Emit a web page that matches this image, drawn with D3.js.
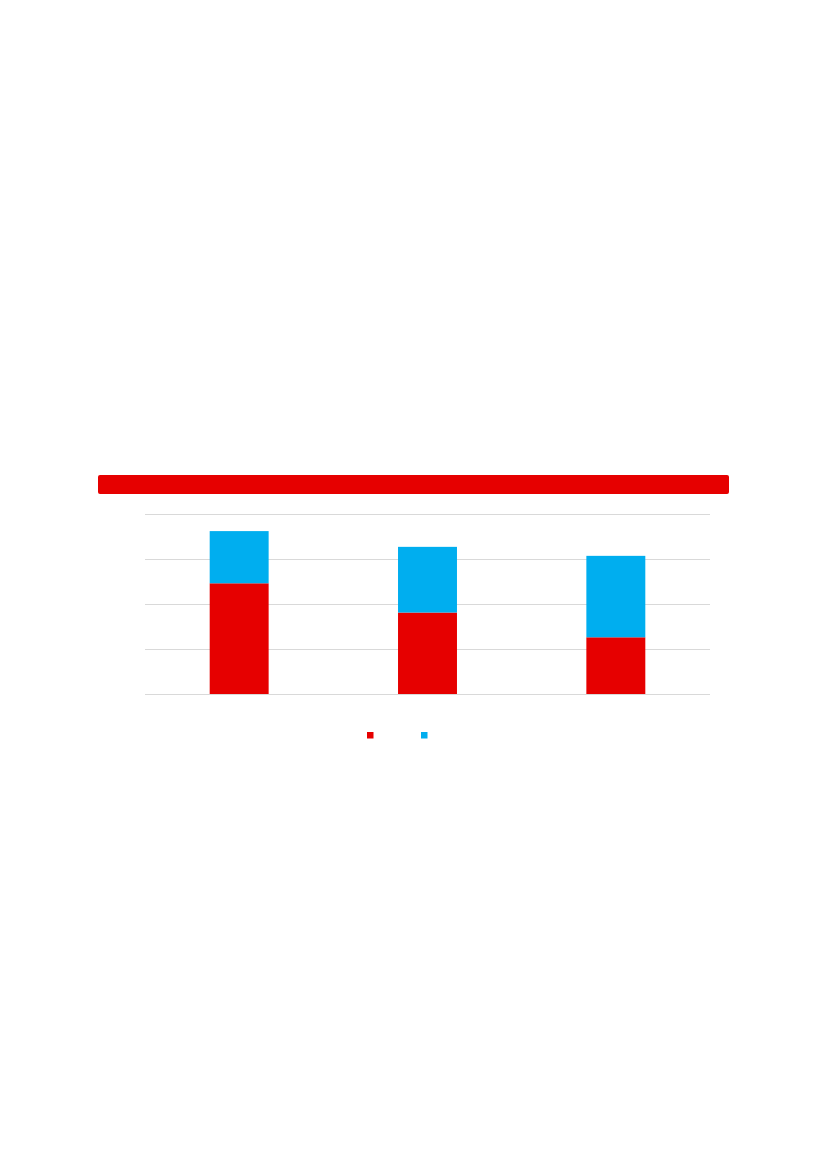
<!DOCTYPE html>
<html>
<head>
<meta charset="utf-8">
<script src="https://cdn.jsdelivr.net/npm/d3@7"></script>
<style>
  html, body { margin: 0; padding: 0; background: #fff; }
  svg { display: block; }
</style>
</head>
<body>
<div id="chart"></div>
<script>
// Data
const categories = ['1', '2', '3'];
const seriesNames = ['red', 'blue'];
const redValues = [2.46, 1.81, 1.26];
const blueValues = [1.16, 1.46, 1.81];
const yTicks = [0, 1, 2, 3, 4];

const colors = { red: '#e60000', blue: '#00aeef' };

const W = 826, H = 1169;
const plot = { left: 145, right: 710, top: 514, bottom: 694 };

const svg = d3.select('#chart')
    .append('svg')
    .attr('width', W)
    .attr('height', H);

// Title banner
svg.append('rect')
    .attr('x', 98)
    .attr('y', 475)
    .attr('width', 631)
    .attr('height', 19)
    .attr('rx', 2)
    .attr('fill', colors.red);

// Scales
const x = d3.scaleBand()
    .domain(categories)
    .range([plot.left, plot.right])
    .paddingInner(0.687)
    .paddingOuter(0.3435);

const y = d3.scaleLinear()
    .domain([0, 4])
    .range([plot.bottom, plot.top]);

// Gridlines
svg.append('g')
    .selectAll('line')
    .data(yTicks)
    .enter()
    .append('line')
    .attr('x1', plot.left)
    .attr('x2', plot.right)
    .attr('y1', d => y(d) + 0.5)
    .attr('y2', d => y(d) + 0.5)
    .attr('stroke', '#d9d9d9')
    .attr('stroke-width', 1)
    .attr('shape-rendering', 'crispEdges');

// Stacked bars
const rows = categories.map((c, i) => ({ cat: c, red: redValues[i], blue: blueValues[i] }));
const stacked = d3.stack().keys(seriesNames)(rows);

svg.append('g')
    .selectAll('g')
    .data(stacked)
    .enter()
    .append('g')
    .attr('fill', d => colors[d.key])
    .selectAll('rect')
    .data(d => d)
    .enter()
    .append('rect')
    .attr('x', d => x(d.data.cat))
    .attr('y', d => y(d[1]))
    .attr('width', x.bandwidth())
    .attr('height', d => y(d[0]) - y(d[1]));

// Legend
const legendX = d3.scalePoint()
    .domain(seriesNames)
    .range([367, 421]);

svg.append('g')
    .selectAll('rect')
    .data(seriesNames)
    .enter()
    .append('rect')
    .attr('x', d => legendX(d))
    .attr('y', 732)
    .attr('width', 6.5)
    .attr('height', 6.5)
    .attr('fill', d => colors[d]);
</script>
</body>
</html>
